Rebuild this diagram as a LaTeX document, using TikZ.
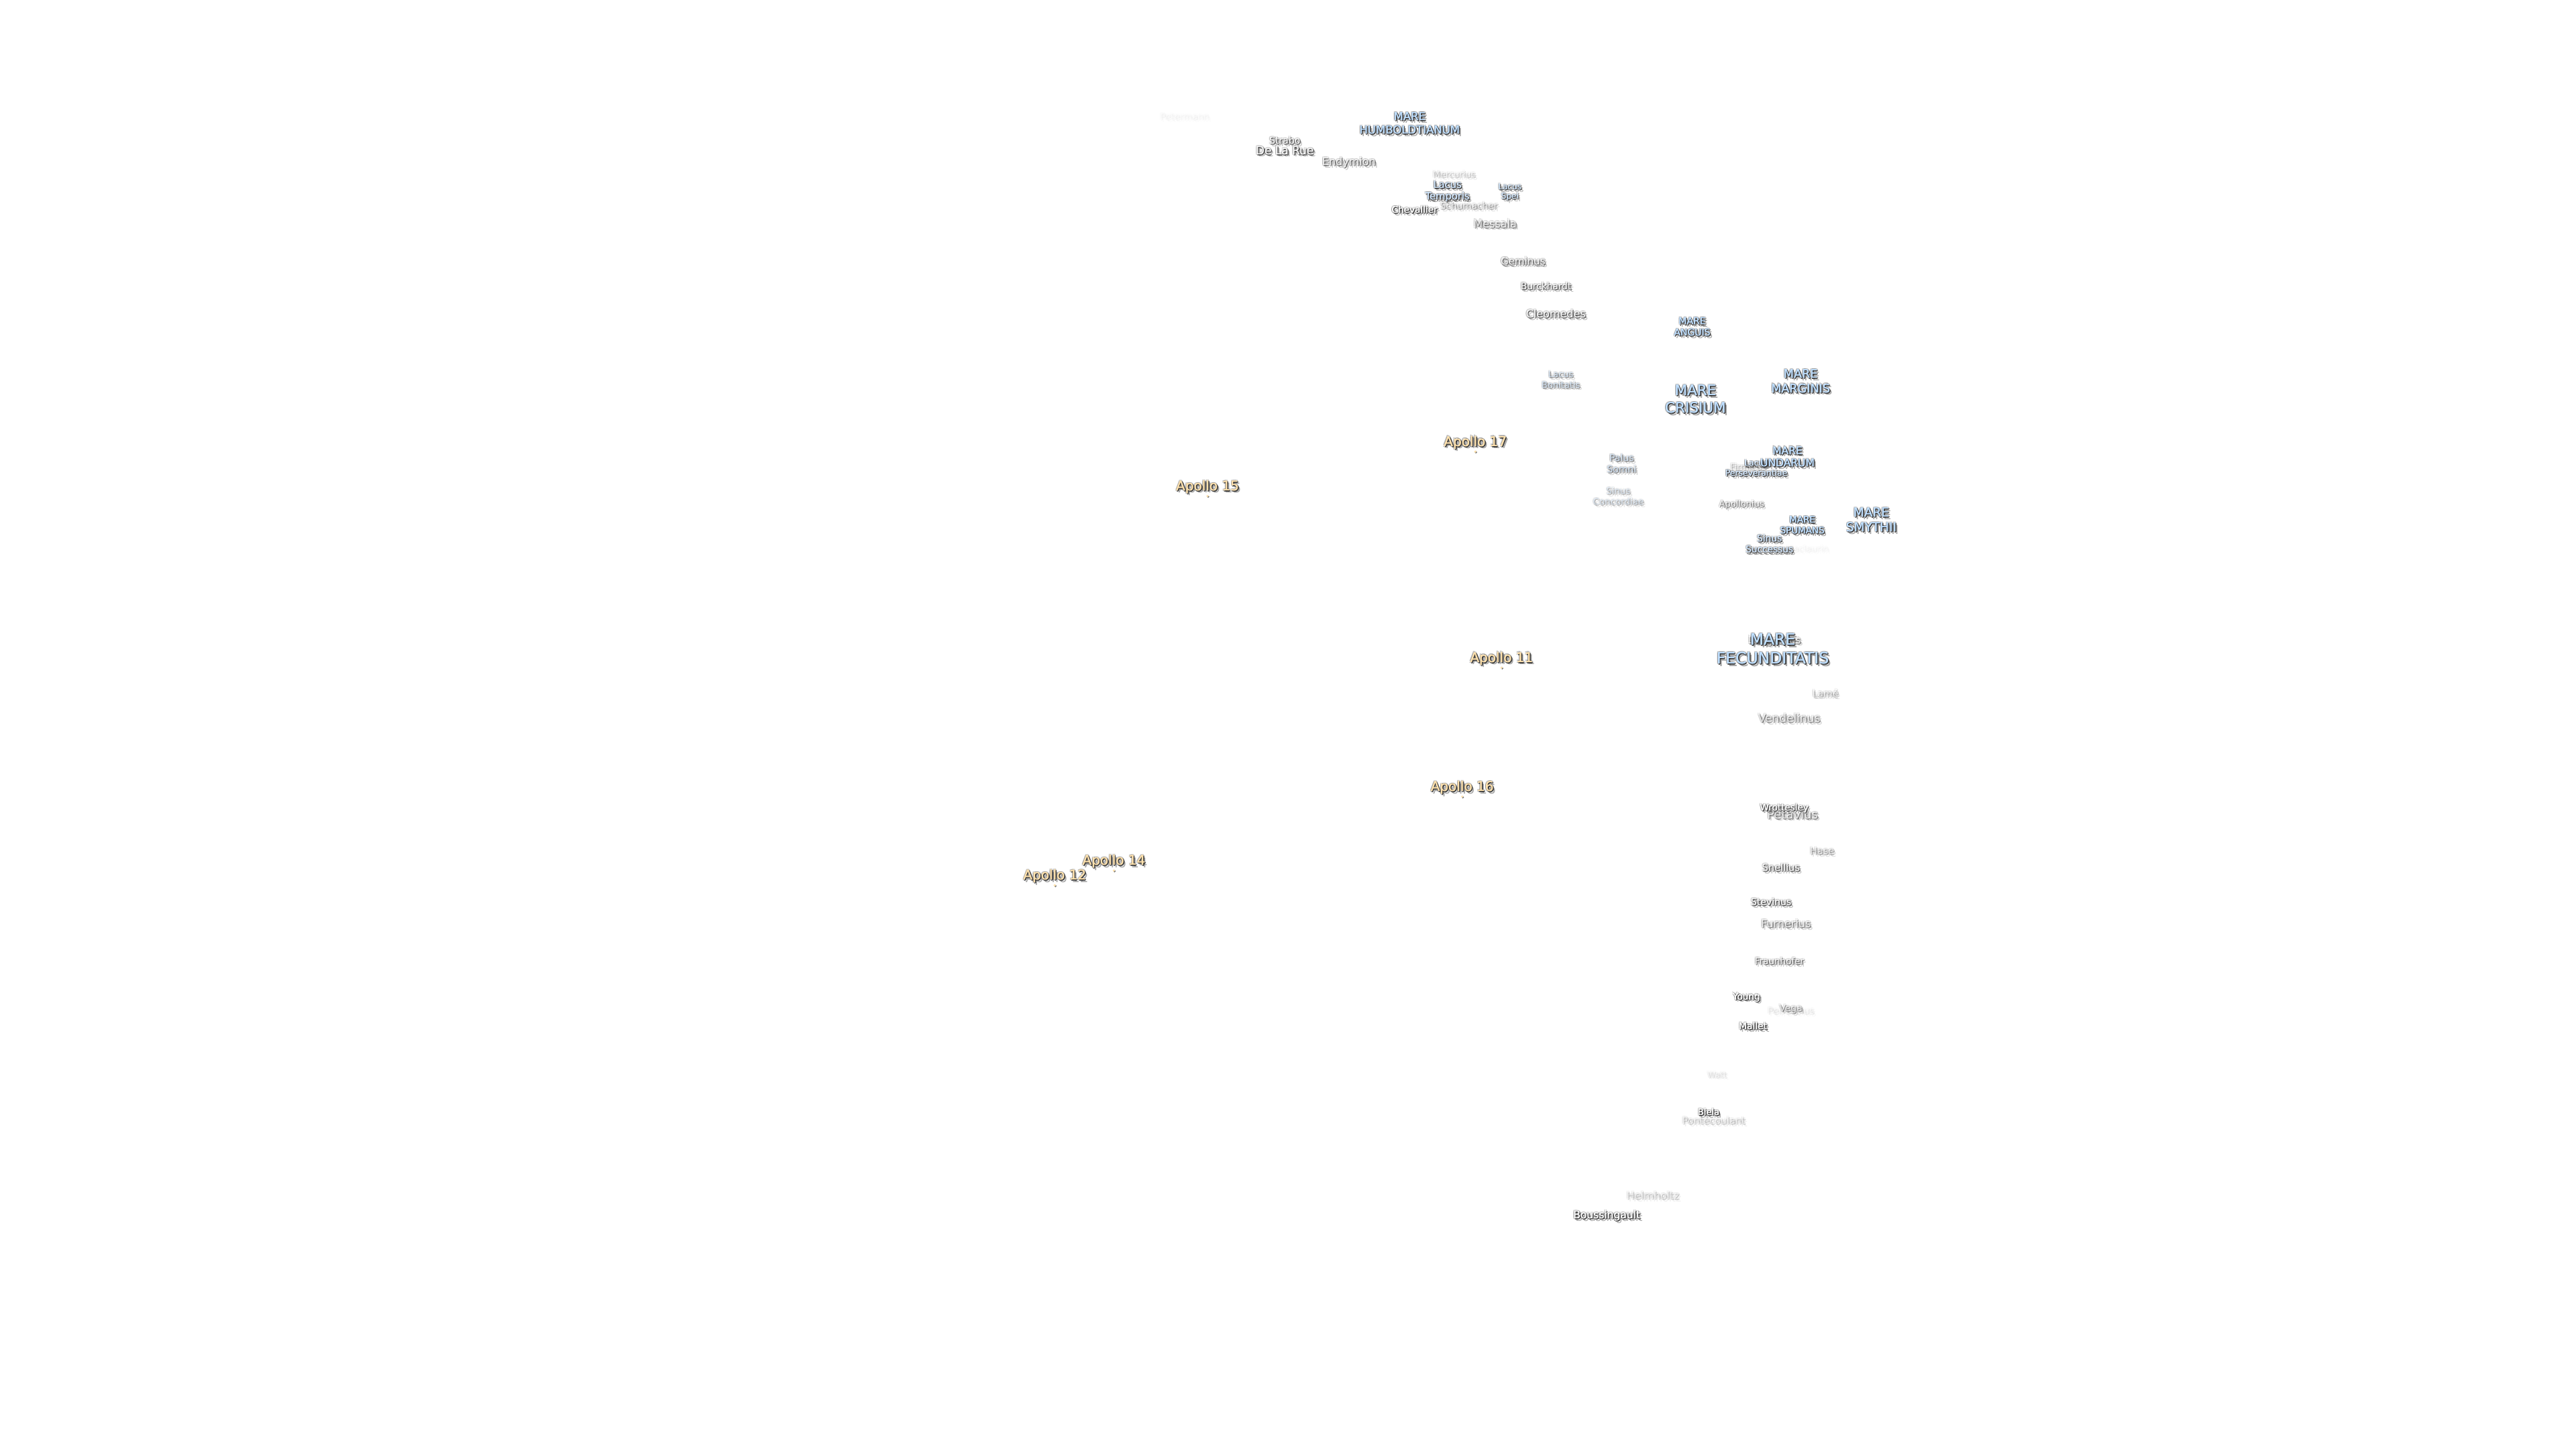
\documentclass[tikz,border=0pt]{standalone}
\usepackage{fontspec}
\setmainfont{DejaVu Sans}
\definecolor{seac}{HTML}{BFDFFF}
\definecolor{apc}{HTML}{FFE2AE}
\definecolor{crc}{HTML}{FFFFFF}
\definecolor{lakec}{HTML}{CFE4FA}
\definecolor{shad}{HTML}{222222}
\tikzset{lab/.style={inner sep=0pt,outer sep=0pt,align=center,anchor=center},
 landing/.style={circle,inner sep=0pt,minimum size=1.8pt,fill=#1}}
\newcommand\lbl[7]{%
 \pgfmathsetmacro\lsz{#4/2}\pgfmathsetmacro\lbs{#4*0.6}%
 \pgfmathsetmacro\opa{#6*0.4}\pgfmathsetmacro\opb{#6*0.7}\pgfmathsetmacro\opc{#6*0.3}%
 \node[lab,text=shad,text opacity=\opa,xshift=1.7pt,yshift=-1.9pt,font=\fontsize{\lsz}{\lbs}\selectfont] (#1a) at (#2,#3) {#7};
 \node[lab,text=shad,text opacity=\opc,xshift=-.55pt,yshift=.55pt,font=\fontsize{\lsz}{\lbs}\selectfont] (#1b) at (#2,#3) {#7};
 \node[lab,text=shad,text opacity=\opc,xshift=.55pt,yshift=.5pt,font=\fontsize{\lsz}{\lbs}\selectfont] (#1c) at (#2,#3) {#7};
 \node[lab,text=shad,text opacity=\opc,xshift=-.55pt,yshift=-.5pt,font=\fontsize{\lsz}{\lbs}\selectfont] (#1d) at (#2,#3) {#7};
 \node[lab,text=shad,text opacity=\opb,xshift=1pt,yshift=-.5pt,font=\fontsize{\lsz}{\lbs}\selectfont] (#1e) at (#2,#3) {#7};
 \node[lab,text=shad,text opacity=\opb,xshift=.5pt,yshift=-1.05pt,font=\fontsize{\lsz}{\lbs}\selectfont] (#1f) at (#2,#3) {#7};
 \node[lab,text=#5,text opacity=#6,xshift=.15pt,font=\fontsize{\lsz}{\lbs}\selectfont] (#1g) at (#2,#3) {#7};
 \node[lab,text=#5,text opacity=#6,xshift=-.1pt,font=\fontsize{\lsz}{\lbs}\selectfont] (#1) at (#2,#3) {#7};
}
\newcommand\apollo[4]{%
 \lbl{#1}{#2}{#3}{20}{apc}{1}{#4}
 \node[landing=shad!65,xshift=.5pt,yshift=-.5pt] (#1ds) at (#2,#3+5.6) {};
 \node[landing=apc] (#1dt) at (#2,#3+5.6) {};
}
\begin{document}
\begin{tikzpicture}[x=1.22449pt,y=-1.22449pt]
\useasboundingbox (0,0) rectangle (1568,882);
% faint craters underneath
\lbl{petermann}{721}{71}{13.5}{crc}{.04}{Petermann}
\lbl{mercurius}{885}{106}{13}{crc}{.2}{Mercurius}
\lbl{schumacher}{894}{125}{13.7}{crc}{.35}{Schumacher}
\lbl{firmicus}{1064}{284}{13}{crc}{.25}{Firmicus}
\lbl{maclaurin}{1100}{334}{13}{crc}{.04}{Maclaurin}
\lbl{langrenus}{1080}{390}{15}{crc}{.55}{Langrenus}
\lbl{petavius}{1091}{495.5}{18}{crc}{.5}{Petavius}
\lbl{peirescius}{1090}{615}{14}{crc}{.08}{Peirescius}
\lbl{pontecoulant}{1043}{682}{14.4}{crc}{.2}{Pontécoulant}
% craters
\lbl{strabo}{782}{85.5}{14}{crc}{.7}{Strabo}
\lbl{delarue}{782}{91.5}{17}{crc}{.8}{De La Rue}
\lbl{endymion}{821}{99}{16}{crc}{.6}{Endymion}
\lbl{chevallier}{861}{127.5}{13.6}{crc}{.95}{Chevallier}
\lbl{messala}{910}{136}{16}{crc}{.5}{Messala}
\lbl{geminus}{927}{159}{15}{crc}{.65}{Geminus}
\lbl{burckhardt}{941}{174}{13.7}{crc}{.7}{Burckhardt}
\lbl{cleomedes}{947}{191}{16}{crc}{.7}{Cleomedes}
\lbl{apollonius}{1060}{307}{13}{crc}{.5}{Apollonius}
\lbl{lame}{1111}{422}{14}{crc}{.3}{Lamé}
\lbl{vendelinus}{1089}{437}{17}{crc}{.45}{Vendelinus}
\lbl{wrottesley}{1086}{492}{13.5}{crc}{.85}{Wrottesley}
\lbl{hase}{1109}{518}{14.5}{crc}{.35}{Hase}
\lbl{snellius}{1084}{528}{14.5}{crc}{.7}{Snellius}
\lbl{stevinus}{1078}{549}{14}{crc}{.8}{Stevinus}
\lbl{furnerius}{1087}{562}{16}{crc}{.5}{Furnerius}
\lbl{fraunhofer}{1083}{585}{13.5}{crc}{.6}{Fraunhofer}
\lbl{young}{1063}{607}{13.5}{crc}{.95}{Young}
\lbl{vega}{1090}{614}{14}{crc}{.4}{Vega}
\lbl{mallet}{1067}{624.5}{13.8}{crc}{.95}{Mallet}
\lbl{watt}{1045}{654}{12.5}{crc}{.1}{Watt}
\lbl{biela}{1040}{677}{13}{crc}{.95}{Biela}
\lbl{helmholtz}{1006}{727.5}{15.5}{crc}{.2}{Helmholtz}
\lbl{boussingault}{978}{740}{15.5}{crc}{.95}{Boussingault}
% lakes, marshes, bays
\lbl{lacustemporis}{881}{116.5}{14.7}{lakec}{1}{Lacus\\Temporis}
\lbl{lacusspei}{919}{117}{12}{lakec}{.9}{Lacus\\Spei}
\lbl{lacusbonitatis}{950}{231}{13}{lakec}{.45}{Lacus\\Bonitatis}
\lbl{palussomni}{987}{282}{14}{lakec}{.5}{Palus\\Somni}
\lbl{sinusconcordiae}{985}{302}{13.4}{lakec}{.3}{Sinus\\Concordiae}
\lbl{lacusperseverantiae}{1069}{285}{12.3}{lakec}{.95}{Lacus\\Perseverantiae}
\lbl{sinussuccessus}{1077}{331}{13.7}{lakec}{.9}{Sinus\\Successus}
% seas
\lbl{humboldtianum}{858}{75}{16.5}{seac}{1}{MARE\\HUMBOLDTIANUM}
\lbl{anguis}{1030}{199}{14}{seac}{1}{MARE\\ANGUIS}
\lbl{marginis}{1096}{232}{17.6}{seac}{1}{MARE\\MARGINIS}
\lbl{crisium}{1032}{243}{21.5}{seac}{1}{MARE\\CRISIUM}
\lbl{undarum}{1088}{278}{15.5}{seac}{1}{MARE\\UNDARUM}
\lbl{spumans}{1097}{319.5}{13.5}{seac}{1}{MARE\\SPUMANS}
\lbl{smythii}{1139}{316.5}{18.5}{seac}{1}{MARE\\SMYTHII}
\lbl{fecunditatis}{1079}{395}{23.5}{seac}{1}{MARE\\FECUNDITATIS}
% landing sites
\apollo{apollof}{735}{296.3}{Apollo 15}
\apollo{apollos}{898}{269.3}{Apollo 17}
\apollo{apolloe}{914}{400.8}{Apollo 11}
\apollo{apollox}{890}{479.3}{Apollo 16}
\apollo{apollod}{678}{524.3}{Apollo 14}
\apollo{apollot}{642}{533.3}{Apollo 12}
\end{tikzpicture}
\end{document}
